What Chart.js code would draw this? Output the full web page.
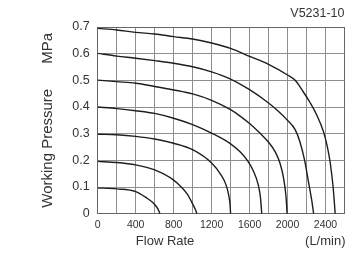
<!DOCTYPE html>
<html>
<head>
<meta charset="utf-8">
<script src="https://cdn.jsdelivr.net/npm/chart.js@4/dist/chart.umd.min.js"></script>
<style>
  html, body { margin: 0; padding: 0; background: #fff; }
  #wrap { width: 361px; height: 256px; }
</style>
</head>
<body>
<div id="wrap"><canvas id="chart"></canvas></div>
<script>
// flow rate (L/min), pressure (MPa)
const curve01 = [[0, 0.097], [200, 0.093], [400, 0.083], [520, 0.058], [580, 0.042], [620, 0.026], [645, 0.01], [655, 0]];
const curve02 = [[0, 0.196], [200, 0.192], [400, 0.183], [600, 0.164], [800, 0.126], [880, 0.1], [940, 0.075], [1000, 0.037], [1030, 0.015], [1045, 0]];
const curve03 = [[0, 0.298], [200, 0.296], [400, 0.29], [600, 0.28], [800, 0.264], [1000, 0.24], [1200, 0.19], [1300, 0.145], [1350, 0.11], [1380, 0.07], [1395, 0.03], [1400, 0]];
const curve04 = [[0, 0.4], [200, 0.394], [400, 0.386], [600, 0.376], [800, 0.358], [1000, 0.334], [1200, 0.302], [1400, 0.262], [1500, 0.232], [1580, 0.198], [1640, 0.16], [1690, 0.11], [1715, 0.06], [1728, 0]];
const curve05 = [[0, 0.501], [200, 0.495], [400, 0.489], [600, 0.477], [800, 0.464], [1000, 0.449], [1200, 0.425], [1400, 0.39], [1500, 0.366], [1600, 0.338], [1700, 0.305], [1800, 0.268], [1870, 0.232], [1920, 0.19], [1960, 0.13], [1985, 0.06], [1995, 0]];
const curve06 = [[0, 0.601], [200, 0.591], [400, 0.583], [600, 0.574], [800, 0.564], [1000, 0.551], [1200, 0.532], [1400, 0.505], [1600, 0.465], [1800, 0.415], [1900, 0.385], [2000, 0.35], [2080, 0.315], [2130, 0.27], [2180, 0.2], [2225, 0.11], [2255, 0.05], [2275, 0]];
const curve07 = [[0, 0.695], [200, 0.689], [400, 0.68], [600, 0.674], [800, 0.664], [1000, 0.655], [1200, 0.64], [1400, 0.62], [1600, 0.59], [1800, 0.56], [2000, 0.52], [2080, 0.5], [2160, 0.46], [2240, 0.415], [2309, 0.369], [2380, 0.306], [2420, 0.25], [2450, 0.19], [2480, 0.1], [2502, 0]];

const xTickLabels = [0, 400, 800, 1200, 1600, 2000, 2400];
const yTickLabels = ["0", "0.1", "0.2", "0.3", "0.4", "0.5", "0.6", "0.7"];

const FONT = "Arial, 'Liberation Sans', sans-serif";
const curves = [curve01, curve02, curve03, curve04, curve05, curve06, curve07];

// axis captions under the x axis
const xCaptions = {
  id: "xCaptions",
  afterDraw(chart) {
    const { ctx, chartArea, scales } = chart;
    ctx.save();
    ctx.font = "13px " + FONT;
    ctx.fillStyle = "#333";
    ctx.textBaseline = "middle";
    ctx.textAlign = "center";
    ctx.fillText("Flow Rate", scales.x.getPixelForValue(710), 241);
    ctx.textAlign = "right";
    ctx.fillText("(L/min)", chartArea.right + 1, 241);
    ctx.restore();
  }
};

new Chart(document.getElementById("chart"), {
  type: "line",
  data: {
    datasets: curves.map((c) => ({
      data: c.map(([x, y]) => ({ x, y })),
      borderColor: "#1e1e1e",
      borderWidth: 1.4,
      pointRadius: 0,
      fill: false,
      cubicInterpolationMode: "monotone"
    }))
  },
  options: {
    responsive: true,
    maintainAspectRatio: false,
    animation: false,
    layout: { padding: { left: 0, right: 16.5, top: 0, bottom: 0 } },
    plugins: {
      legend: { display: false },
      tooltip: { enabled: false },
      title: {
        display: true,
        text: "V5231-10",
        align: "end",
        color: "#333",
        font: { family: FONT, size: 12.5, weight: "normal" },
        padding: { top: 6, bottom: 6 }
      }
    },
    scales: {
      x: {
        type: "linear",
        min: 0,
        max: 2600,
        afterFit: (s) => { s.height = 42.3; },
        ticks: {
          stepSize: 200,
          padding: 5,
          maxRotation: 0,
          autoSkip: false,
          color: "#333",
          font: { family: FONT, size: 10.5 },
          callback: (v) => (xTickLabels.includes(v) ? String(v) : "")
        },
        grid: {
          drawTicks: false,
          color: (c) => (c.tick && c.tick.value === 2600 ? "#666" : "#8e8e8e")
        },
        border: { color: "#666" }
      },
      y: {
        min: 0,
        max: 0.7,
        afterFit: (s) => { s.width = 97.7; },
        ticks: {
          stepSize: 0.1,
          padding: 8,
          color: "#333",
          font: { family: FONT, size: 12.5 },
          callback: (v) => yTickLabels[Math.round(v * 10)]
        },
        grid: {
          drawTicks: false,
          color: (c) => (c.tick && Math.abs(c.tick.value - 0.7) < 1e-6 ? "#666" : "#8e8e8e")
        },
        border: { color: "#666" },
        title: {
          display: true,
          text: "Working Pressure      MPa",
          color: "#333",
          font: { family: FONT, size: 15 },
          padding: { top: 39, bottom: 0 }
        }
      }
    }
  },
  plugins: [xCaptions]
});
</script>
</body>
</html>
